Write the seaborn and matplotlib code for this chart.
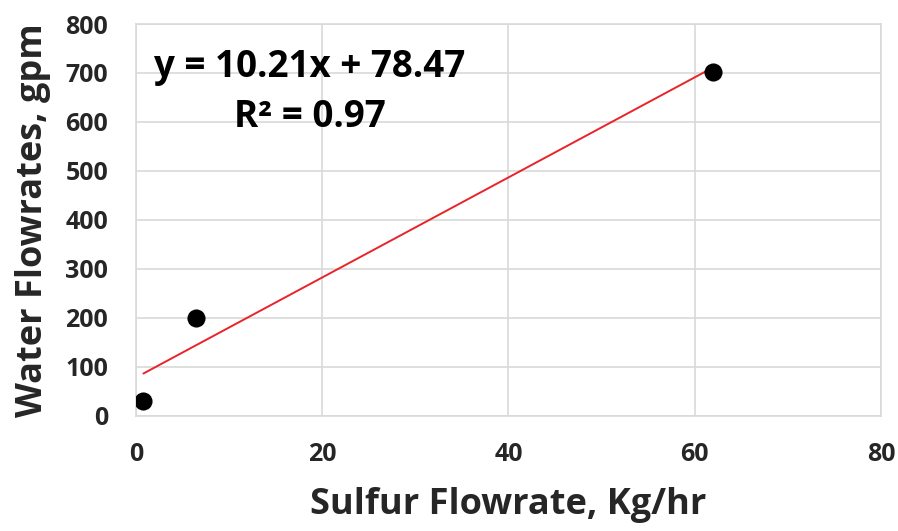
import numpy as np
import pandas as pd
import matplotlib
matplotlib.use("Agg")
import matplotlib.pyplot as plt
import seaborn as sns

# Measured points
sulfur_flow = [0.8, 6.4, 62.0]      # Kg/hr
water_flow = [30, 200, 703]         # gpm

# Linear fit reported on the chart
slope = 10.21
intercept = 78.47
r_squared = 0.97

x_ticks = [0, 20, 40, 60, 80]
y_ticks = [0, 100, 200, 300, 400, 500, 600, 700, 800]

sns.set_theme(style="whitegrid")
plt.rcParams["font.family"] = ["Open Sans", "DejaVu Sans"]

fig = plt.figure(figsize=(8.98, 5.31), dpi=100)
ax = fig.add_axes([0.1514, 0.2166, 0.8296, 0.7382])

points = pd.DataFrame({"sulfur": sulfur_flow, "water": water_flow})
sns.scatterplot(data=points, x="sulfur", y="water", ax=ax, color="black",
                s=170, edgecolor="black", linewidth=0, zorder=3)

fit_x = np.array([min(sulfur_flow), max(sulfur_flow)])
fit = pd.DataFrame({"sulfur": fit_x, "water": slope * fit_x + intercept})
sns.lineplot(data=fit, x="sulfur", y="water", ax=ax, color="#e8242a",
             linewidth=1.4, zorder=2)

ax.set_xlim(0, 80)
ax.set_ylim(0, 800)
ax.set_xticks(x_ticks)
ax.set_yticks(y_ticks)
ax.set_xticklabels([str(t) for t in x_ticks], fontsize=18, fontweight="bold")
ax.set_yticklabels([str(t) for t in y_ticks], fontsize=18, fontweight="bold")
ax.tick_params(axis="x", pad=19, length=0)
ax.tick_params(axis="y", pad=20, length=0)

ax.grid(True, color="#d9d9d9", linewidth=1.2)
for side in ["top", "right", "left", "bottom"]:
    ax.spines[side].set_color("#d9d9d9")
    ax.spines[side].set_linewidth(1.2)

ax.set_xlabel("Sulfur Flowrate, Kg/hr", fontsize=26, fontweight="bold", labelpad=14)
ax.set_ylabel("Water Flowrates, gpm", fontsize=26, fontweight="bold", labelpad=10)

ax.text(18.7, 712, f"y = {slope:.2f}x + {intercept:.2f}", ha="center", va="center",
        fontsize=26.5, fontweight="bold", color="black")
ax.text(18.7, 610, f"R² = {r_squared:.2f}", ha="center", va="center",
        fontsize=26.5, fontweight="bold", color="black")

fig.savefig("out.png", dpi=100, facecolor="white")
